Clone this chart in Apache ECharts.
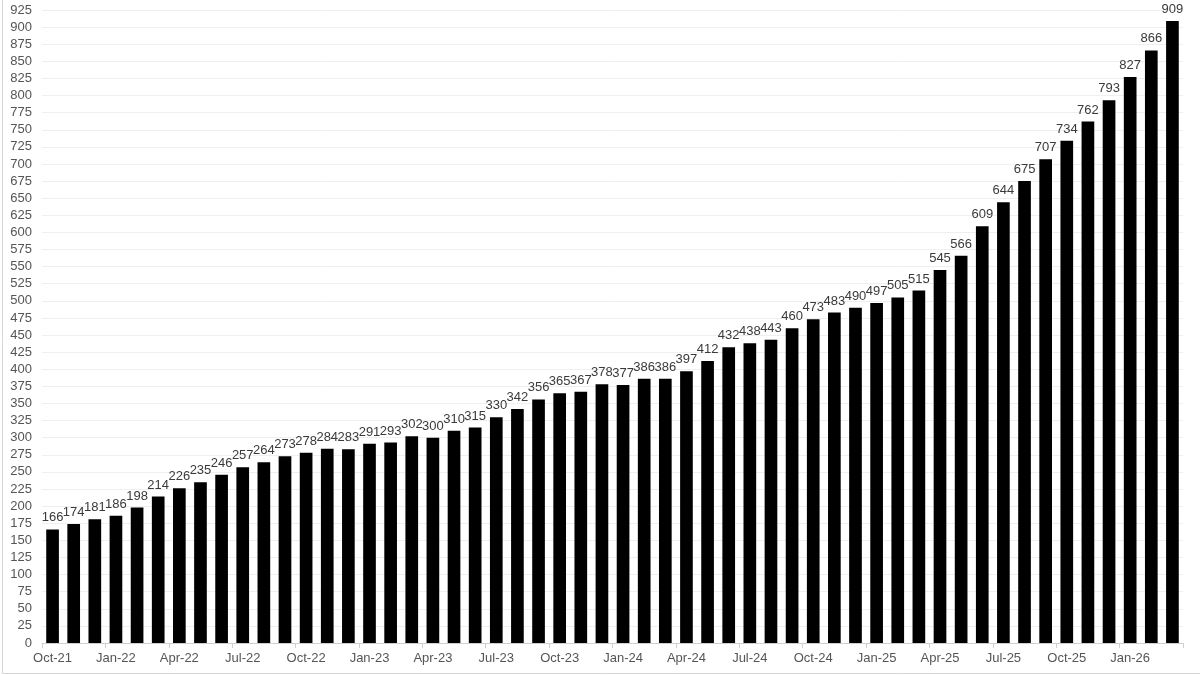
<!DOCTYPE html>
<html>
<head>
<meta charset="utf-8">
<script src="https://cdn.jsdelivr.net/npm/echarts@6/dist/echarts.min.js"></script>
<style>html,body{margin:0;padding:0;background:#fff}#c{width:1200px;height:675px}</style>
</head>
<body>
<div id="c"></div>
<script>
const categories = ["Oct-21","Nov-21","Dec-21","Jan-22","Feb-22","Mar-22","Apr-22","May-22","Jun-22","Jul-22","Aug-22","Sep-22","Oct-22","Nov-22","Dec-22","Jan-23","Feb-23","Mar-23","Apr-23","May-23","Jun-23","Jul-23","Aug-23","Sep-23","Oct-23","Nov-23","Dec-23","Jan-24","Feb-24","Mar-24","Apr-24","May-24","Jun-24","Jul-24","Aug-24","Sep-24","Oct-24","Nov-24","Dec-24","Jan-25","Feb-25","Mar-25","Apr-25","May-25","Jun-25","Jul-25","Aug-25","Sep-25","Oct-25","Nov-25","Dec-25","Jan-26","Feb-26","Mar-26"];
const values = [166,174,181,186,198,214,226,235,246,257,264,273,278,284,283,291,293,302,300,310,315,330,342,356,365,367,378,377,386,386,397,412,432,438,443,460,473,483,490,497,505,515,545,566,609,644,675,707,734,762,793,827,866,909];
const yMin = 0, yMax = 925, yStep = 25;

const font = '"Liberation Sans", Arial, Helvetica, sans-serif';
const chart = echarts.init(document.getElementById('c'), null, {renderer: 'canvas'});
chart.setOption({
  animation: false,
  backgroundColor: '#fff',
  graphic: [
    {type: 'line', shape: {x1: 2.5, y1: 0, x2: 2.5, y2: 673.5}, style: {stroke: '#d6d6d6', lineWidth: 1}, silent: true},
    {type: 'line', shape: {x1: 2.5, y1: 673.5, x2: 1200, y2: 673.5}, style: {stroke: '#d6d6d6', lineWidth: 1}, silent: true}
  ],
  grid: {left: 42, right: 17, top: 10, bottom: 32, containLabel: false},
  xAxis: {
    type: 'category',
    data: categories,
    boundaryGap: true,
    axisLine: {show: true, lineStyle: {color: '#cfcfcf', width: 1}},
    axisTick: {show: true, length: 5, lineStyle: {color: '#cfcfcf'}},
    axisLabel: {interval: 2, color: '#555', fontSize: 13, fontFamily: font, margin: 9}
  },
  yAxis: {
    type: 'value',
    min: yMin, max: yMax, interval: yStep,
    axisLine: {show: false},
    axisTick: {show: false},
    axisLabel: {color: '#555', fontSize: 13, fontFamily: font, margin: 10},
    splitLine: {show: true, lineStyle: {color: '#efefef', width: 1}}
  },
  series: [{
    type: 'bar',
    data: values,
    barCategoryGap: '40%',
    itemStyle: {color: '#000'},
    label: {show: true, position: 'top', distance: 5, color: '#3a3a3a', fontSize: 13, fontFamily: font}
  }]
});
</script>
</body>
</html>
